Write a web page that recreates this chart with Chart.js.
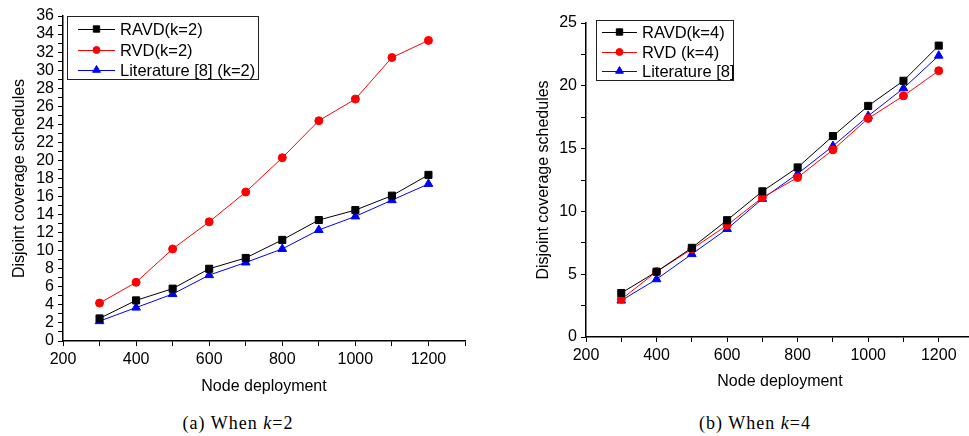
<!DOCTYPE html>
<html><head><meta charset="utf-8">
<script src="https://cdn.jsdelivr.net/npm/chart.js@4.4.0/dist/chart.umd.min.js"></script>
<style>
html,body{margin:0;padding:0;background:#fff;width:969px;height:436px;overflow:hidden;position:relative}
canvas{position:absolute;top:0}
.cap{position:absolute;font-family:"Liberation Serif","Times New Roman",serif;font-size:18px;letter-spacing:1px;color:#000;white-space:nowrap;transform:translate(-50%,-50%)}
</style></head><body>
<canvas id="c1" width="480" height="400" style="left:0"></canvas>
<canvas id="c2" width="480" height="400" style="left:500px"></canvas>
<div class="cap" style="left:238px;top:423px">(a) When <i>k</i>=2</div>
<div class="cap" style="left:755px;top:423px">(b) When <i>k</i>=4</div>
<script>
const nodes = [300,400,500,600,700,800,900,1000,1100,1200];
const ravdK2 = [2.5,4.5,5.8,8.0,9.2,11.2,13.4,14.5,16.1,18.4];
const rvdK2  = [4.2,6.5,10.2,13.2,16.5,20.3,24.4,26.8,31.4,33.3];
const litK2  = [2.2,3.7,5.2,7.3,8.7,10.2,12.3,13.8,15.6,17.4];
const ravdK4 = [3.5,5.2,7.1,9.3,11.6,13.5,16.0,18.4,20.4,23.2];
const rvdK4  = [3.0,5.2,7.0,8.9,11.1,12.7,14.9,17.4,19.2,21.2];
const litK4  = [2.9,4.6,6.6,8.6,11.0,13.0,15.2,17.6,19.8,22.4];
const namesK2 = ['RAVD(k=2)','RVD(k=2)','Literature [8] (k=2)'];
const namesK4 = ['RAVD(k=4)','RVD (k=4)','Literature [8]'];
const xTitle = 'Node deployment';
const yTitle = 'Disjoint coverage schedules';

const FONT = '"Liberation Sans", Arial, sans-serif';
const styles = [
  {color:'#000000', pointStyle:'rect', radius:5},
  {color:'#ff0000', pointStyle:'circle', radius:4},
  {color:'#0000ff', pointStyle:'triangle', radius:5}
];

function mkData(series, names){
  return series.map((s,i)=>({
    label:names[i],
    data:nodes.map((x,j)=>({x:x,y:s[j]})),
    borderColor:styles[i].color,
    backgroundColor:styles[i].color,
    pointBackgroundColor:styles[i].color,
    pointBorderColor:styles[i].color,
    pointStyle:styles[i].pointStyle,
    pointRadius:styles[i].radius,
    pointBorderWidth:1,
    borderWidth:1,
    tension:0,
    fill:false
  }));
}

const boxLegend = {
  id:'boxLegend',
  afterDraw(chart, args, o){
    const ctx = chart.ctx;
    ctx.save();
    ctx.strokeStyle = '#222';
    ctx.lineWidth = 1;
    ctx.fillStyle = '#fff';
    ctx.fillRect(o.x, o.y, o.w, o.h);
    ctx.strokeRect(o.x+0.5, o.y+0.5, o.w, o.h);
    ctx.font = '16.5px ' + FONT;
    ctx.textBaseline = 'middle';
    chart.data.datasets.forEach((ds,i)=>{
      const y = o.rows[i];
      ctx.strokeStyle = ds.borderColor;
      ctx.lineWidth = 1;
      ctx.beginPath();
      ctx.moveTo(o.l1, y+0.5); ctx.lineTo(o.l2, y+0.5); ctx.stroke();
      ctx.fillStyle = ds.borderColor;
      Chart.helpers.drawPoint(ctx, {pointStyle:ds.pointStyle, radius:ds.pointRadius-0.5, rotation:0, borderWidth:1}, (o.l1+o.l2)/2, y);
      ctx.fillStyle = '#000';
      ctx.fillText(ds.label, o.tx, y+1);
    });
    ctx.restore();
  }
};

function mkOptions(cfg){
  return {
    responsive:false,
    animation:false,
    layout:{padding:cfg.pad},
    plugins:{legend:{display:false}, tooltip:{enabled:false}, boxLegend:cfg.legend},
    scales:{
      x:{
        type:'linear', min:200, max:1300,
        afterFit(s){ s.height = cfg.xh; },
        border:{display:true, color:'#000', width:1.5},
        grid:{display:true, drawOnChartArea:false, drawTicks:true, tickLength:5, tickColor:'#000', tickWidth:1},
        ticks:{stepSize:100, autoSkip:false, maxTicksLimit:100, maxRotation:0, padding:4, color:'#000',
          font:{family:FONT, size:16},
          callback:(v)=> (v%200===0 && v<=1200) ? String(v) : ''},
        title:{display:true, text:xTitle, color:'#000', font:{family:FONT, size:16}, padding:{top:4,bottom:4}}
      },
      y:{
        type:'linear', min:0, max:cfg.ymax,
        afterFit(s){ s.width = cfg.yw; },
        border:{display:true, color:'#000', width:1.5},
        grid:{display:true, drawOnChartArea:false, drawTicks:true, tickLength:5, tickColor:'#000', tickWidth:1},
        ticks:{stepSize:cfg.ystep, autoSkip:false, maxTicksLimit:100, padding:4, color:'#000',
          font:{family:FONT, size:16},
          callback:(v)=> (Math.abs(v/cfg.ylab - Math.round(v/cfg.ylab))<1e-6) ? String(v) : ''},
        title:{display:true, text:yTitle, color:'#000', font:{family:FONT, size:16}, padding:{top:4,bottom:4}}
      }
    }
  };
}

new Chart(document.getElementById('c1'), {
  type:'line',
  data:{datasets:mkData([ravdK2, rvdK2, litK2], namesK2)},
  options:mkOptions({pad:{left:6,right:15,top:16,bottom:0}, xh:59, yw:57, ymax:36, ystep:1, ylab:2,
    legend:{x:67, y:16, w:191, h:63, rows:[29,50,70], l1:78, l2:115, tx:120}}),
  plugins:[boxLegend]
});
new Chart(document.getElementById('c2'), {
  type:'line',
  data:{datasets:mkData([ravdK4, rvdK4, litK4], namesK4)},
  options:mkOptions({pad:{left:30,right:5,top:23,bottom:5}, xh:58, yw:56, ymax:25, ystep:2.5, ylab:5,
    legend:{x:96, y:20, w:137, h:60, rows:[32,52,71], l1:102, l2:137, tx:142}}),
  plugins:[boxLegend]
});
</script>
</body></html>
